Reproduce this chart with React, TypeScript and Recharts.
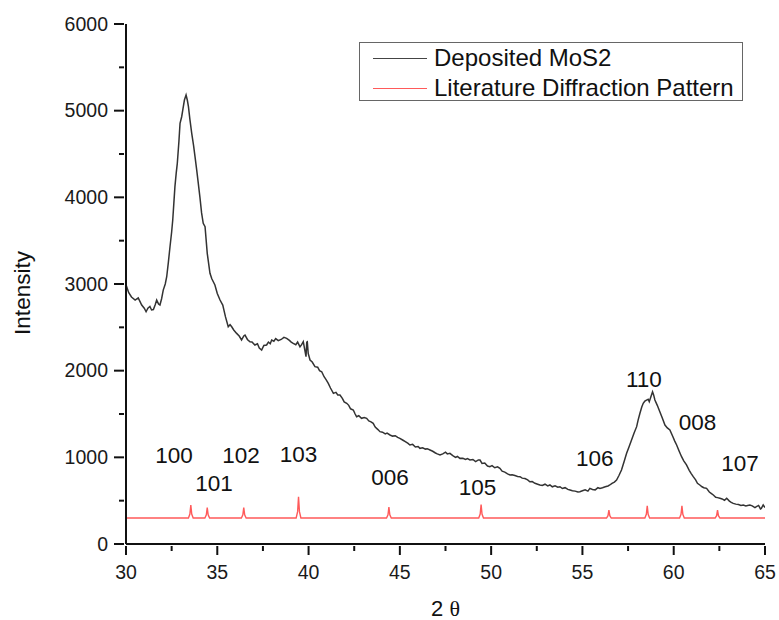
import {
  ComposedChart,
  Legend,
  Line,
  Scatter,
  XAxis,
  YAxis,
} from "recharts";

const FONT = "'Liberation Sans', Arial, sans-serif";

// measured scan, [2θ, counts]
const SCAN: [number, number][] = [
  [30.0, 2990], [30.15, 2900], [30.3, 2850], [30.5, 2815], [30.67, 2840],
  [30.86, 2757], [31.0, 2720], [31.1, 2680], [31.2, 2720], [31.31, 2740],
  [31.4, 2700], [31.5, 2705], [31.6, 2760], [31.68, 2815], [31.78, 2770],
  [31.86, 2757], [31.95, 2830], [32.04, 2930], [32.15, 3000], [32.23, 3084],
  [32.32, 3250], [32.41, 3430], [32.5, 3600], [32.56, 3738], [32.62, 3930],
  [32.68, 4123], [32.75, 4280], [32.81, 4392], [32.9, 4650], [32.96, 4854],
  [33.05, 4930], [33.12, 5020], [33.2, 5123], [33.29, 5180], [33.36, 5120],
  [33.42, 5046], [33.5, 4900], [33.6, 4738], [33.7, 4600], [33.78, 4469],
  [33.87, 4320], [33.96, 4161], [34.05, 4000], [34.14, 3820], [34.23, 3700],
  [34.33, 3661], [34.45, 3354], [34.6, 3123], [34.7, 3060], [34.87, 2988],
  [35.0, 2890], [35.15, 2815], [35.3, 2757], [35.45, 2620], [35.6, 2507],
  [35.7, 2530], [35.79, 2507], [35.9, 2470], [36.06, 2430], [36.2, 2400],
  [36.33, 2354], [36.45, 2400], [36.52, 2411], [36.65, 2360], [36.79, 2334],
  [36.9, 2330], [37.06, 2296], [37.2, 2310], [37.3, 2260], [37.43, 2238],
  [37.55, 2290], [37.7, 2296], [37.8, 2330], [37.9, 2310], [37.98, 2354],
  [38.1, 2340], [38.2, 2370], [38.34, 2346], [38.5, 2360], [38.65, 2385],
  [38.8, 2373], [38.95, 2350], [39.05, 2330], [39.16, 2315], [39.3, 2300],
  [39.4, 2330], [39.53, 2276], [39.62, 2300], [39.71, 2334], [39.8, 2230],
  [39.86, 2161], [39.9, 2330], [39.93, 2334], [39.98, 2200], [40.08, 2123],
  [40.2, 2100], [40.35, 2046], [40.5, 2040], [40.6, 2000], [40.72, 1988],
  [40.85, 1930], [40.95, 1900], [41.08, 1854], [41.2, 1800], [41.36, 1738],
  [41.5, 1750], [41.6, 1720], [41.72, 1719], [41.85, 1680], [41.95, 1640],
  [42.09, 1623], [42.2, 1600], [42.3, 1560], [42.45, 1546], [42.55, 1500],
  [42.63, 1469], [42.75, 1480], [42.9, 1450], [43.05, 1460], [43.18, 1450],
  [43.3, 1420], [43.42, 1410], [43.54, 1392], [43.65, 1350], [43.8, 1320],
  [43.91, 1296], [44.05, 1290], [44.2, 1270], [44.3, 1280], [44.46, 1258],
  [44.6, 1245], [44.75, 1250], [44.88, 1230], [45.0, 1219], [45.15, 1200],
  [45.3, 1180], [45.45, 1160], [45.55, 1142], [45.7, 1150], [45.85, 1120],
  [46.0, 1125], [46.1, 1104], [46.25, 1110], [46.4, 1095], [46.5, 1100],
  [46.65, 1085], [46.8, 1070], [46.95, 1050], [47.05, 1040], [47.2, 1027],
  [47.35, 1040], [47.5, 1060], [47.6, 1040], [47.74, 1046], [47.9, 1020],
  [48.05, 1000], [48.15, 1010], [48.29, 988], [48.45, 990], [48.6, 975],
  [48.7, 985], [48.84, 969], [49.0, 975], [49.15, 950], [49.3, 970],
  [49.39, 969], [49.5, 930], [49.65, 935], [49.8, 900], [49.93, 892],
  [50.05, 905], [50.2, 880], [50.35, 890], [50.48, 873], [50.6, 840],
  [50.75, 830], [50.9, 810], [51.03, 796], [51.15, 800], [51.3, 790],
  [51.45, 780], [51.58, 777], [51.7, 760], [51.85, 755], [52.0, 740],
  [52.12, 718], [52.25, 720], [52.4, 700], [52.55, 690], [52.67, 680],
  [52.8, 675], [52.95, 690], [53.1, 670], [53.22, 681], [53.35, 660],
  [53.5, 672], [53.65, 655], [53.77, 661], [53.9, 640], [54.05, 650],
  [54.2, 630], [54.32, 623], [54.45, 615], [54.6, 610], [54.75, 600],
  [54.86, 604], [55.0, 615], [55.15, 625], [55.3, 610], [55.41, 642],
  [55.55, 630], [55.7, 625], [55.85, 650], [55.96, 642], [56.1, 650],
  [56.25, 660], [56.4, 670], [56.5, 681], [56.62, 700], [56.75, 715],
  [56.87, 738], [57.0, 790], [57.14, 854], [57.28, 950], [57.42, 1046],
  [57.55, 1120], [57.69, 1200], [57.83, 1280], [57.97, 1354], [58.05, 1430],
  [58.15, 1508], [58.25, 1580], [58.33, 1623], [58.42, 1650], [58.51, 1661],
  [58.6, 1670], [58.66, 1642], [58.75, 1700], [58.84, 1757], [58.9, 1720],
  [58.97, 1661], [59.1, 1600], [59.24, 1527], [59.38, 1450], [59.52, 1373],
  [59.65, 1340], [59.79, 1315], [59.95, 1240], [60.05, 1190], [60.16, 1142],
  [60.3, 1070], [60.43, 1007], [60.55, 960], [60.7, 912], [60.85, 850],
  [60.95, 815], [61.07, 777], [61.2, 740], [61.3, 700], [61.43, 681],
  [61.55, 660], [61.65, 650], [61.8, 642], [61.95, 600], [62.05, 585],
  [62.17, 565], [62.3, 540], [62.4, 535], [62.53, 527], [62.65, 520],
  [62.78, 505], [62.9, 527], [63.05, 495], [63.15, 480], [63.26, 469],
  [63.4, 460], [63.55, 455], [63.68, 445], [63.81, 450], [63.95, 440],
  [64.05, 445], [64.17, 450], [64.3, 440], [64.45, 420], [64.53, 431],
  [64.65, 445], [64.75, 405], [64.8, 411], [64.9, 450], [65.0, 420],
];

// literature pattern (stick positions, drawn on an offset baseline)
const REF_BASE = 300;
const REF_2THETA = [33.55, 34.45, 36.45, 39.45, 44.4, 49.45, 56.45, 58.55, 60.45, 62.4];
const REF_TOP = [450, 420, 420, 545, 425, 455, 390, 440, 440, 390];

// hkl annotations
const HKL = ["100", "101", "102", "103", "006", "105", "106", "110", "008", "107"];
const HKL_2THETA = [32.63, 34.82, 36.3, 39.45, 44.46, 49.25, 55.68, 58.37, 61.31, 63.63];
const HKL_INTENSITY = [1027, 704, 1027, 1038, 777, 661, 998, 1907, 1411, 940];

const X_TICKS = [30, 32.5, 35, 37.5, 40, 42.5, 45, 47.5, 50, 52.5, 55, 57.5, 60, 62.5, 65];
const Y_TICKS = [0, 500, 1000, 1500, 2000, 2500, 3000, 3500, 4000, 4500, 5000, 5500, 6000];

const scanData = SCAN.map(([x, y]) => ({ x, y }));

const refData: { x: number; y: number }[] = [{ x: 30, y: REF_BASE }];
REF_2THETA.forEach((p, i) => {
  const h = REF_TOP[i] - REF_BASE;
  refData.push(
    { x: p - 0.13, y: REF_BASE },
    { x: p - 0.05, y: REF_BASE + h * 0.3 },
    { x: p, y: REF_TOP[i] },
    { x: p + 0.05, y: REF_BASE + h * 0.3 },
    { x: p + 0.13, y: REF_BASE },
  );
});
refData.push({ x: 65, y: REF_BASE });

const labelData = HKL.map((hkl, i) => ({
  x: HKL_2THETA[i],
  y: HKL_INTENSITY[i],
  hkl,
}));

function XTick({ x, y, payload }: any) {
  const major = payload.value % 5 === 0;
  return (
    <g>
      <line x1={x} x2={x} y1={y} y2={y + (major ? 9 : 5)} stroke="#111" strokeWidth={2} />
      {major && (
        <text x={x} y={y + 33} textAnchor="middle" fontSize={19.5} fontFamily={FONT} fill="#1a1a1a">
          {payload.value}
        </text>
      )}
    </g>
  );
}

function YTick({ x, y, payload }: any) {
  const major = payload.value % 1000 === 0;
  return (
    <g>
      <line x1={x} x2={x - (major ? 10 : 5)} y1={y} y2={y} stroke="#111" strokeWidth={2} />
      {major && (
        <text x={x - 16} y={y} dy="0.35em" textAnchor="end" fontSize={19.5} fontFamily={FONT} fill="#1a1a1a">
          {payload.value}
        </text>
      )}
    </g>
  );
}

function HklLabel({ cx, cy, payload }: any) {
  return (
    <text x={cx} y={cy} dy="0.36em" textAnchor="middle" fontSize={22.5} fontFamily={FONT} fill="#111">
      {payload.hkl}
    </text>
  );
}

function LegendBox() {
  const row = (color: string, text: string) => (
    <div style={{ display: "flex", alignItems: "center", height: 30 }}>
      <div style={{ width: 54, height: 0, borderTop: `1.5px solid ${color}`, marginLeft: 13, marginRight: 7 }} />
      <span style={{ whiteSpace: "nowrap" }}>{text}</span>
    </div>
  );
  return (
    <div
      style={{
        width: 384,
        height: 59,
        boxSizing: "border-box",
        border: "1.5px solid #666",
        background: "#fff",
        fontFamily: FONT,
        fontSize: 24,
        color: "#111",
        lineHeight: 1,
      }}
    >
      {row("#444", "Deposited MoS2")}
      {row("#ff5a5a", "Literature Diffraction Pattern")}
    </div>
  );
}

export default function App() {
  return (
    <div style={{ position: "absolute", left: 0, top: 0, width: 779, height: 620, background: "#fff" }}>
      <ComposedChart width={779} height={620} margin={{ top: 24, right: 14, left: 0, bottom: 0 }}>
        <XAxis
          type="number"
          dataKey="x"
          domain={[30, 65]}
          ticks={X_TICKS}
          interval={0}
          allowDataOverflow
          height={76}
          tickSize={0}
          tickLine={false}
          axisLine={{ stroke: "#111", strokeWidth: 2 }}
          tick={<XTick />}
          label={{
            content: ({ viewBox }: any) => (
              <text
                x={viewBox.x + viewBox.width / 2}
                y={viewBox.y + 72}
                textAnchor="middle"
                fontSize={22}
                fill="#111"
              >
                <tspan fontFamily={FONT}>2 </tspan>
                <tspan fontFamily="'Liberation Serif', serif">θ</tspan>
              </text>
            ),
          }}
        />
        <YAxis
          type="number"
          dataKey="y"
          domain={[0, 6000]}
          ticks={Y_TICKS}
          interval={0}
          allowDataOverflow
          width={126}
          tickSize={0}
          tickLine={false}
          axisLine={{ stroke: "#111", strokeWidth: 2 }}
          tick={<YTick />}
          label={{
            content: () => (
              <text
                x={22}
                y={293}
                transform="rotate(-90 22 293)"
                textAnchor="middle"
                dominantBaseline="central"
                fontSize={22.5}
                fontFamily={FONT}
                fill="#111"
              >
                Intensity
              </text>
            ),
          }}
        />
        <Legend
          layout="horizontal"
          verticalAlign="middle"
          align="center"
          content={() => <LegendBox />}
          wrapperStyle={{ left: 359, top: 42, width: 384, height: 59 }}
        />
        <Line
          data={refData}
          dataKey="y"
          type="linear"
          stroke="#ff5a5a"
          strokeWidth={1.4}
          dot={false}
          activeDot={false}
          isAnimationActive={false}
        />
        <Line
          data={scanData}
          dataKey="y"
          type="linear"
          stroke="#333"
          strokeWidth={1.5}
          dot={false}
          activeDot={false}
          isAnimationActive={false}
        />
        <Scatter
          data={labelData}
          dataKey="y"
          shape={<HklLabel />}
          legendType="none"
          isAnimationActive={false}
        />
      </ComposedChart>
    </div>
  );
}
